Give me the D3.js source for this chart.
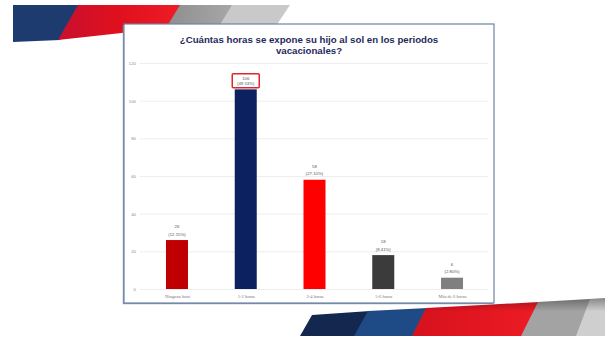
<!DOCTYPE html>
<html>
<head>
<meta charset="utf-8">
<script src="https://cdn.jsdelivr.net/npm/d3@7/dist/d3.min.js"></script>
<style>
  html, body { margin: 0; padding: 0; background: #ffffff; }
  svg { display: block; }
</style>
</head>
<body>
<svg id="slide" width="605" height="339"></svg>
<script>
// Survey answers: hours of sun exposure during holidays
const categories = ["Ninguna hora", "1-2 horas", "3-4 horas", "5-6 horas", "Más de 6 horas"];
const counts = [26, 106, 58, 18, 6];
const percents = ["12.15%", "49.53%", "27.10%", "8.41%", "2.80%"];
const yTicks = [0, 20, 40, 60, 80, 100, 120];
const titleLines = ["¿Cuántas horas se expone su hijo al sol en los periodos", "vacacionales?"];

const barColors = ["#c00000", "#0b2160", "#ff0000", "#3b3b3b", "#7f7f7f"];
const highlighted = 1; // bar whose label is framed

const svg = d3.select("#slide");
const defs = svg.append("defs");

function hGrad(id, stops) {
  const g = defs.append("linearGradient").attr("id", id).attr("x1", "0").attr("x2", "1").attr("y1", "0").attr("y2", "0");
  stops.forEach(s => g.append("stop").attr("offset", s[0]).attr("stop-color", s[1]));
}
function vGrad(id, stops) {
  const g = defs.append("linearGradient").attr("id", id).attr("x1", "0").attr("x2", "0").attr("y1", "0").attr("y2", "1");
  stops.forEach(s => g.append("stop").attr("offset", s[0]).attr("stop-color", s[1]));
}
hGrad("redTop", [[0, "#c8102e"], [0.5, "#e0101e"], [1, "#ee1c25"]]);
hGrad("grayTop", [[0, "#8e8e8e"], [1, "#a8a8a8"]]);
hGrad("redBot", [[0, "#d5121d"], [1, "#ee1b24"]]);
vGrad("shade", [[0, "rgba(0,0,0,0.35)"], [0.35, "rgba(0,0,0,0)"], [1, "rgba(0,0,0,0)"]]);

// ---- decorative header stripes ----
const header = svg.append("g");
const poly = (g, pts, fill) => g.append("polygon").attr("points", pts.map(p => p.join(",")).join(" ")).attr("fill", fill);
poly(header, [[13, 5], [80, 5], [60, 40], [13, 42]], "#1d3b6f");
poly(header, [[78, 5], [181, 5], [167, 28], [58, 40]], "url(#redTop)");
poly(header, [[180, 5], [235, 5], [221, 28], [166, 28]], "url(#grayTop)");
poly(header, [[232, 5], [290, 5], [276, 26], [218, 28]], "#c9c9c9");

// ---- decorative footer stripes ----
const footer = svg.append("g");
poly(footer, [[312, 315], [370, 311], [356, 336], [300, 336]], "#14284f");
poly(footer, [[368, 311], [428, 308], [414, 336], [354, 336]], "#1e4b86");
poly(footer, [[426, 308], [540, 302], [523, 336], [412, 336]], "url(#redBot)");
poly(footer, [[538, 302], [592, 299], [578, 336], [521, 336]], "#a3a3a3");
poly(footer, [[590, 299], [605, 298], [605, 336], [576, 336]], "#cfcfcf");
footer.append("polygon").attr("points", "312,315 605,298 605,336 300,336").attr("fill", "url(#shade)");

// ---- chart frame ----
const frame = { x: 124, y: 24, w: 370, h: 279 };
svg.append("rect")
  .attr("x", frame.x - 1.2).attr("y", frame.y + 1.2).attr("width", frame.w).attr("height", frame.h)
  .attr("fill", "#8093b3");
svg.append("rect")
  .attr("x", frame.x).attr("y", frame.y).attr("width", frame.w).attr("height", frame.h)
  .attr("fill", "#ffffff").attr("stroke", "#6f82a4").attr("stroke-width", 1.2);

// title, sized so the first line spans the intended width
const title = svg.append("text")
  .attr("text-anchor", "middle")
  .attr("font-family", "'Liberation Sans', Arial, sans-serif")
  .attr("font-weight", "bold")
  .attr("font-size", 9)
  .attr("fill", "#1f2a5c");
const tspans = titleLines.map((t, i) =>
  title.append("tspan").attr("x", frame.x + frame.w / 2).attr("y", 42.5 + i * 11).text(t));
const measured = tspans[0].node().getComputedTextLength();
title.attr("font-size", 9 * 259 / measured);

// ---- scales ----
const y = d3.scaleLinear().domain([0, 120]).range([289, 63]);
const x = d3.scalePoint().domain(categories).range([142.6, 486.4]).padding(0.5);
const barW = x.step() * 0.32;

// gridlines + y labels
const yAxis = d3.axisLeft(y).tickValues(yTicks).tickSize(-(488 - 140)).tickPadding(4);
const gy = svg.append("g").attr("transform", "translate(140,0)").call(yAxis);
gy.select(".domain").remove();
gy.selectAll(".tick line").attr("stroke", "#e3e3e3").attr("stroke-width", 0.6);
gy.selectAll(".tick text")
  .attr("font-family", "'Liberation Sans', Arial, sans-serif")
  .attr("font-size", 4.3).attr("fill", "#8a8a8a");

// x labels
const xAxis = d3.axisBottom(x).tickSize(0).tickPadding(6);
const gx = svg.append("g").attr("transform", "translate(0,289)").call(xAxis);
gx.select(".domain").remove();
gx.selectAll(".tick text")
  .attr("font-family", "'Liberation Serif', 'Times New Roman', serif")
  .attr("font-size", 4.6).attr("fill", "#777");

// bars
svg.append("g").selectAll("rect").data(categories).join("rect")
  .attr("x", d => x(d) - barW / 2)
  .attr("y", (d, i) => y(counts[i]))
  .attr("width", barW)
  .attr("height", (d, i) => y(0) - y(counts[i]))
  .attr("fill", (d, i) => barColors[i]);

// value labels
const labels = svg.append("g")
  .attr("font-family", "'Liberation Sans', Arial, sans-serif")
  .attr("font-size", 4.3).attr("fill", "#555").attr("text-anchor", "middle");

categories.forEach((c, i) => {
  const cx = x(c), barTop = y(counts[i]);
  if (i === highlighted) {
    labels.append("rect")
      .attr("x", cx - barW / 2 - 2.5).attr("y", barTop - 15.5)
      .attr("width", barW + 5).attr("height", 14)
      .attr("fill", "#fff").attr("stroke", "#e0262c").attr("stroke-width", 1.5).attr("rx", 1);
    labels.append("text").attr("x", cx).attr("y", barTop - 9.5).text(counts[i]);
    labels.append("text").attr("x", cx).attr("y", barTop - 4).text("(" + percents[i] + ")");
  } else {
    labels.append("text").attr("x", cx).attr("y", barTop - 12).text(counts[i]);
    labels.append("text").attr("x", cx).attr("y", barTop - 4.5).text("(" + percents[i] + ")");
  }
});
</script>
</body>
</html>
